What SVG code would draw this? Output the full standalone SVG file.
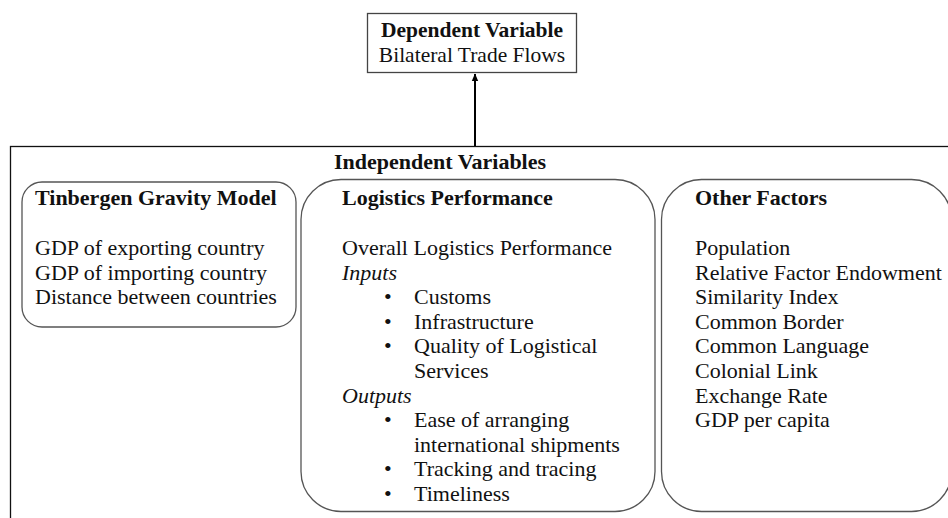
<svg xmlns="http://www.w3.org/2000/svg" width="948" height="518" viewBox="0 0 948 518">
<defs>
<marker id="ah" markerWidth="8" markerHeight="8" refX="7" refY="4" orient="auto" markerUnits="userSpaceOnUse">
<path d="M0,0.8 L7.5,4 L0,7.2 Z" fill="#000"/>
</marker>
<style>
text{font-family:"Liberation Serif","Times New Roman",serif;font-size:22px;fill:#111}
.b{font-weight:bold}
.i{font-style:italic}
.rb{fill:#fff;stroke:#555;stroke-width:1.3}
</style>
</defs>
<rect width="948" height="518" fill="#fff"/>
<g id="independent">
<rect x="10.5" y="146.5" width="1000" height="420" fill="none" stroke="#111" stroke-width="1.3"/>
<text class="b" x="440" y="169" text-anchor="middle">Independent Variables</text>
</g>
<g id="dependent">
<rect x="367.5" y="13.5" width="209" height="59" fill="#fff" stroke="#444" stroke-width="1.3"/>
<text class="b" x="472" y="37" text-anchor="middle" style="font-size:21.5px">Dependent Variable</text>
<text x="472" y="62" text-anchor="middle" style="font-size:21.5px">Bilateral Trade Flows</text>
</g>
<g id="connectors">
<line x1="475" y1="146" x2="475" y2="74" stroke="#000" stroke-width="2" marker-end="url(#ah)"/>
</g>
<g id="tinbergen">
<rect class="rb" x="22" y="182" width="274" height="145" rx="20" ry="20"/>
<text class="b" x="35" y="205">Tinbergen Gravity Model</text>
<text x="35" y="255">GDP of exporting country</text>
<text x="35" y="279.6">GDP of importing country</text>
<text x="35" y="304.2">Distance between countries</text>
</g>
<g id="logistics">
<rect class="rb" x="301" y="179.5" width="354" height="332" rx="40" ry="40"/>
<text class="b" x="342" y="205">Logistics Performance</text>
<text x="342" y="255">Overall Logistics Performance</text>
<text class="i" x="342" y="279.6">Inputs</text>
<text x="384" y="304.2">•</text><text x="414" y="304.2">Customs</text>
<text x="384" y="328.8">•</text><text x="414" y="328.8">Infrastructure</text>
<text x="384" y="353.4">•</text><text x="414" y="353.4">Quality of Logistical</text>
<text x="414" y="378">Services</text>
<text class="i" x="342" y="402.6">Outputs</text>
<text x="384" y="427.2">•</text><text x="414" y="427.2">Ease of arranging</text>
<text x="414" y="451.8">international shipments</text>
<text x="384" y="476.4">•</text><text x="414" y="476.4">Tracking and tracing</text>
<text x="384" y="501">•</text><text x="414" y="501">Timeliness</text>
</g>
<g id="other">
<rect class="rb" x="661.5" y="179.5" width="290" height="332" rx="40" ry="40"/>
<text class="b" x="695" y="205">Other Factors</text>
<text x="695" y="255">Population</text>
<text x="695" y="279.6">Relative Factor Endowment</text>
<text x="695" y="304.2">Similarity  Index</text>
<text x="695" y="328.8">Common Border</text>
<text x="695" y="353.4">Common Language</text>
<text x="695" y="378">Colonial Link</text>
<text x="695" y="402.6">Exchange Rate</text>
<text x="695" y="427.2">GDP per capita</text>
</g>
</svg>
